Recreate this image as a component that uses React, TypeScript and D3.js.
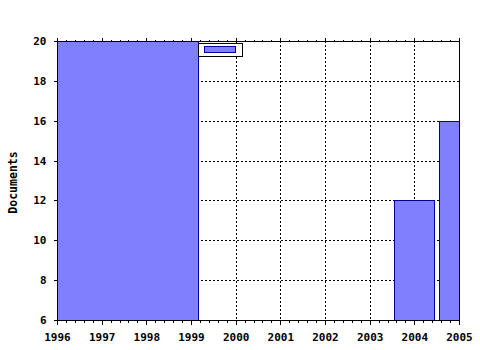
import React from "react";
import * as d3 from "d3";

const years = [1996, 1997, 1998, 1999, 2000, 2001, 2002, 2003, 2004, 2005];
const yTicks = [6, 8, 10, 12, 14, 16, 18, 20];
const barStarts = [1995, 2003.55, 2004.55];
const barEnds = [1999.16, 2004.45, 2005.45];
const barValues = [25, 12, 16];
const yLabel = "Documents";

const W = 480, H = 350;
const M = { left: 57, right: 21, top: 41, bottom: 30 };

export default function App() {
  const x = d3.scaleLinear().domain([1996, 2005]).range([M.left, W - M.right]);
  const y = d3.scaleLinear().domain([6, 20]).range([H - M.bottom, M.top]);
  const [x0, x1] = x.range();
  const [y0, y1] = y.range();
  const font = "'DejaVu Sans Mono', monospace";
  const minor: number[] = [];
  for (let i = 0; i < years.length - 1; i++) {
    for (let k = 1; k < 5; k++) minor.push(years[i] + k / 5);
  }
  const bars = barValues.map((v, i) => ({ s: barStarts[i], e: barEnds[i], v }));
  return (
    <svg width={W} height={H} style={{ position: "absolute", left: 0, top: 0, background: "#fff" }}>
      <defs>
        <clipPath id="plot">
          <rect x={x0} y={y1} width={x1 - x0} height={y0 - y1} />
        </clipPath>
      </defs>
      <rect x={0} y={0} width={W} height={H} fill="#fff" />
      {/* grid */}
      <g stroke="#000" strokeWidth={1} strokeDasharray="2,2" shapeRendering="crispEdges">
        {years.slice(1, -1).map((yr) => (
          <line key={"gx" + yr} x1={Math.round(x(yr)) + 0.5} x2={Math.round(x(yr)) + 0.5} y1={y1} y2={y0} />
        ))}
        {yTicks.slice(1, -1).map((t) => (
          <line key={"gy" + t} x1={x0} x2={x1} y1={Math.round(y(t)) + 0.5} y2={Math.round(y(t)) + 0.5} />
        ))}
      </g>
      {/* bars */}
      <g clipPath="url(#plot)" shapeRendering="crispEdges">
        {bars.map((b, i) => (
          <rect
            key={i}
            x={Math.round(x(b.s)) + 0.5}
            y={Math.round(y(b.v)) + 0.5}
            width={Math.round(x(b.e)) - Math.round(x(b.s))}
            height={Math.round(y(6)) - Math.round(y(b.v))}
            fill="#8080ff"
            stroke="#0000a0"
            strokeWidth={1}
          />
        ))}
      </g>
      {/* frame */}
      <rect x={x0 + 0.5} y={y1 + 0.5} width={x1 - x0} height={y0 - y1} fill="none" stroke="#000" strokeWidth={1} shapeRendering="crispEdges" />
      {/* ticks */}
      <g stroke="#000" strokeWidth={1} shapeRendering="crispEdges">
        {years.map((yr) => (
          <g key={"t" + yr}>
            <line x1={Math.round(x(yr)) + 0.5} x2={Math.round(x(yr)) + 0.5} y1={y0} y2={y0 + 5} />
            <line x1={Math.round(x(yr)) + 0.5} x2={Math.round(x(yr)) + 0.5} y1={y1 - 3} y2={y1 + 1} />
          </g>
        ))}
        {minor.map((m, i) => (
          <g key={"m" + i}>
            <line x1={Math.round(x(m)) + 0.5} x2={Math.round(x(m)) + 0.5} y1={y0} y2={y0 + 3} />
            <line x1={Math.round(x(m)) + 0.5} x2={Math.round(x(m)) + 0.5} y1={y1 - 1} y2={y1 + 1} />
          </g>
        ))}
        {yTicks.map((t) => (
          <line key={"yt" + t} x1={x0 - 3} x2={x0 + 1} y1={Math.round(y(t)) + 0.5} y2={Math.round(y(t)) + 0.5} />
        ))}
      </g>
      {/* tick labels */}
      <g fontFamily={font} fontWeight="bold" fontSize={11} fill="#000">
        {years.map((yr) => (
          <text key={"xl" + yr} x={x(yr) + 0.5} y={y0 + 20.5} textAnchor="middle">{yr}</text>
        ))}
        {yTicks.map((t) => (
          <text key={"yl" + t} x={x0 - 10.5} y={y(t) + 4} textAnchor="end">{t}</text>
        ))}
        <text transform={`translate(${17},${(y0 + y1) / 2 + 2}) rotate(-90)`} textAnchor="middle" fontSize={11.5}>{yLabel}</text>
      </g>
      {/* legend */}
      <g shapeRendering="crispEdges">
        <rect x={x(1999.16) + 0.5} y={y1 + 2.5} width={44} height={13} fill="#fff" stroke="#000" strokeWidth={1} />
        <rect x={x(1999.16) + 6.5} y={y1 + 5.5} width={31} height={6} fill="#8080ff" stroke="#0000a0" strokeWidth={1} />
      </g>
    </svg>
  );
}
